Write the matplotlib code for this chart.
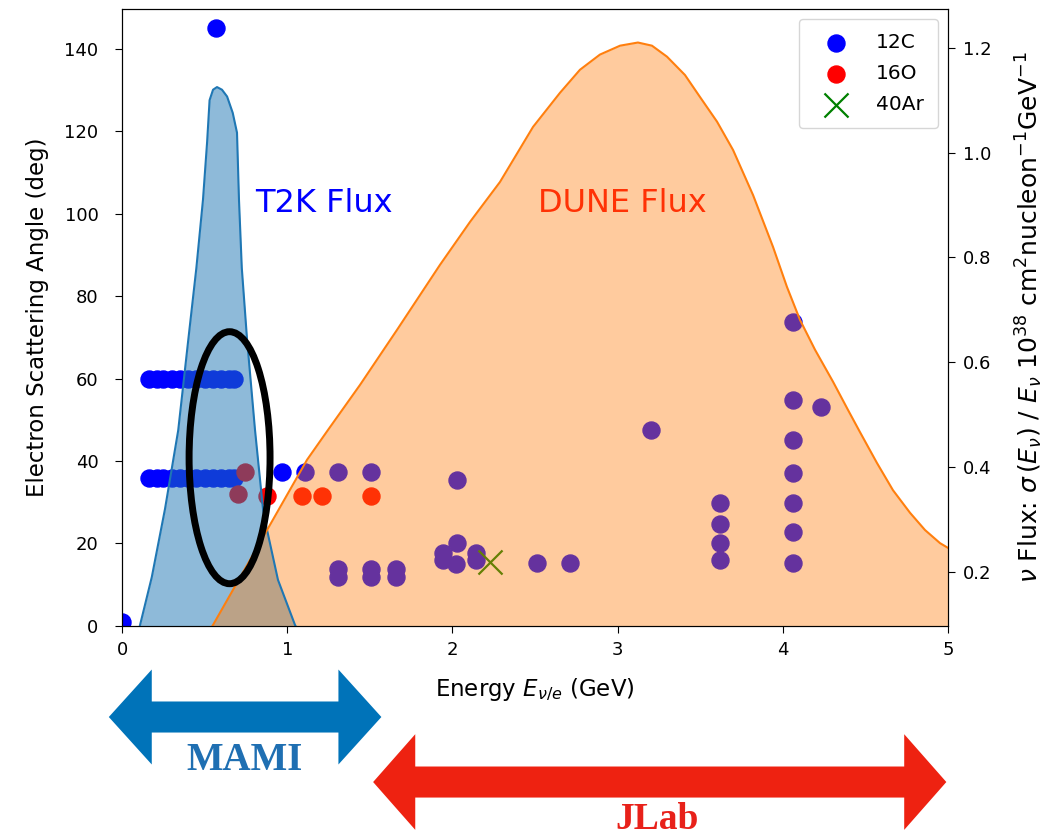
"""
plot.py
-------
Angulos de dispersion de electrones frente a energia, con los flujos
de T2K y DUNE superpuestos y los rangos de MAMI y JLab debajo.
"""

import matplotlib
matplotlib.use("Agg")
import matplotlib.pyplot as plt
from matplotlib.patches import Ellipse, Polygon
from matplotlib.transforms import blended_transform_factory

# ---------------------------------------------------------------------------
# Datos
# ---------------------------------------------------------------------------
energia_t2k = [0.0, 0.03, 0.11, 0.18, 0.26, 0.34, 0.40, 0.45, 0.49, 0.515,
               0.53, 0.551, 0.575, 0.605, 0.636, 0.67, 0.696, 0.708, 0.725,
               0.757, 0.805, 0.854, 0.878, 0.944, 1.047, 1.17, 1.5, 5.0]
flujo_t2k = [0.0, 0.0, 0.10, 0.19, 0.32, 0.47, 0.64, 0.78, 0.91, 1.02,
             1.10, 1.12, 1.125, 1.12, 1.107, 1.076, 1.038, 0.91, 0.78,
             0.643, 0.471, 0.318, 0.28, 0.185, 0.099, 0.03, 0.0, 0.0]

energia_dune = [0.0, 0.37, 0.551, 0.775, 1.120, 1.247, 1.441, 1.665, 1.925,
                2.107, 2.288, 2.488, 2.651, 2.772, 2.893, 3.015, 3.123,
                3.208, 3.299, 3.408, 3.499, 3.602, 3.699, 3.820, 3.941,
                4.025, 4.104, 4.195, 4.304, 4.395, 4.467, 4.570, 4.667,
                4.770, 4.861, 4.952, 5.0]
flujo_dune = [0.0, 0.0, 0.099, 0.223, 0.414, 0.471, 0.557, 0.662, 0.786,
              0.868, 0.944, 1.049, 1.114, 1.158, 1.187, 1.204, 1.210,
              1.204, 1.183, 1.148, 1.106, 1.059, 1.005, 0.919, 0.820,
              0.744, 0.681, 0.624, 0.563, 0.509, 0.467, 0.408, 0.356,
              0.313, 0.280, 0.255, 0.246]

fila_c12 = [0.165, 0.21, 0.25, 0.30, 0.35, 0.40, 0.45, 0.50, 0.55, 0.60,
            0.65, 0.68]
energia_c12 = (fila_c12 + fila_c12 +
               [0.0, 0.57, 0.97, 1.11, 1.31, 1.51, 2.03,
                1.31, 1.31, 1.51, 1.51, 1.66, 1.66,
                1.94, 1.94, 2.03, 2.02, 2.14, 2.14, 2.51, 2.71,
                3.20, 3.62, 3.62, 3.62, 3.62,
                4.06, 4.06, 4.06, 4.06, 4.06, 4.06, 4.06, 4.23])
angulo_c12 = ([60] * len(fila_c12) + [36] * len(fila_c12) +
              [1.0, 145, 37.3, 37.3, 37.3, 37.3, 35.3,
               13.8, 11.8, 13.8, 11.8, 13.8, 11.8,
               17.8, 15.9, 20.0, 15.1, 17.8, 15.9, 15.2, 15.2,
               47.4, 29.9, 24.8, 20.0, 15.9,
               73.6, 54.8, 45.0, 37.0, 29.9, 22.7, 15.2, 53.0])

energia_o16 = [0.70, 0.745, 0.88, 1.09, 1.21, 1.51]
angulo_o16 = [32.0, 37.3, 31.6, 31.6, 31.6, 31.6]

energia_ar40 = [2.23]
angulo_ar40 = [15.4]

# rangos de energia de los aceleradores (GeV)
rango_mami = (-0.08, 1.57)
rango_jlab = (1.52, 4.99)


def flecha_doble(fig, ax, x0, x1, y, medio_cuerpo, medio_cabeza, largo_cabeza, color):
    """Dibuja una flecha de dos puntas: x en unidades de energia, y en fraccion de figura."""
    trans = blended_transform_factory(ax.transData, fig.transFigure)
    a, b = x0 + largo_cabeza, x1 - largo_cabeza
    puntos = [(x0, y), (a, y + medio_cabeza), (a, y + medio_cuerpo),
              (b, y + medio_cuerpo), (b, y + medio_cabeza), (x1, y),
              (b, y - medio_cabeza), (b, y - medio_cuerpo),
              (a, y - medio_cuerpo), (a, y - medio_cabeza)]
    flecha = Polygon(puntos, closed=True, transform=trans, facecolor=color,
                     edgecolor="none", clip_on=False)
    fig.add_artist(flecha)


plt.rcParams["font.size"] = 13

fig = plt.figure(figsize=(10.63, 8.39), dpi=100)
ax1 = fig.add_axes([0.1148, 0.2539, 0.777, 0.7354])
ax2 = ax1.twinx()

ax1.scatter(energia_c12, angulo_c12, s=150, color="blue", label="12C")
ax1.scatter(energia_o16, angulo_o16, s=150, color="red", label="16O")
ax1.scatter(energia_ar40, angulo_ar40, s=300, marker="x", linewidths=1.6,
            color="green", label="40Ar")

ax1.text(1.22, 102.4, "T2K Flux", color="blue", fontsize=23, ha="center", va="center")
ax1.text(3.03, 102.4, "DUNE Flux", color="red", fontsize=23, ha="center", va="center")

ax1.set_xlim(0, 5)
ax1.set_ylim(0, 149.6)
ax1.set_xlabel(r"Energy $E_{\nu/e}$ (GeV)", fontsize=16.5)
ax1.set_ylabel("Electron Scattering Angle (deg)", fontsize=16.5)
ax1.xaxis.set_label_coords(0.5, -0.082)
ax1.yaxis.set_label_coords(-0.088, 0.5)
ax1.tick_params(axis="x", length=5, pad=6)
ax1.tick_params(axis="y", length=5, pad=12)

# flujos en el eje derecho, por encima de los puntos
ax2.fill_between(energia_t2k, flujo_t2k, color="C0", alpha=0.5, linewidth=0)
ax2.plot(energia_t2k, flujo_t2k, color="C0", linewidth=1.5)
ax2.fill_between(energia_dune, flujo_dune, color="C1", alpha=0.4, linewidth=0)
ax2.plot(energia_dune, flujo_dune, color="C1", linewidth=1.5)
ax2.set_ylim(0.097, 1.274)
ax2.set_ylabel(r"$\nu$ Flux: $\sigma\,(E_{\nu})$ / $E_{\nu}$ $10^{38}$ "
               r"cm$^2$nucleon$^{-1}$GeV$^{-1}$", fontsize=18)
ax2.yaxis.set_label_coords(1.08, 0.5)
ax2.tick_params(axis="y", length=5, pad=6)

h, l = ax1.get_legend_handles_labels()
ax2.legend(h, l, loc="upper right", fontsize=14.5, handlelength=2.2,
           handletextpad=0.9, borderpad=0.7, labelspacing=0.6)

# region marcada con la elipse negra
ax2.add_patch(Ellipse((0.651, 40.8), 0.49, 61.1, transform=ax1.transData,
                      fill=False, edgecolor="black", linewidth=5, zorder=10))

# ---------------------------------------------------------------------------
# Flechas de MAMI y JLab debajo del eje
# ---------------------------------------------------------------------------
flecha_doble(fig, ax1, rango_mami[0], rango_mami[1], 0.1454, 0.0185, 0.0566, 0.26, "#0073b9")
flecha_doble(fig, ax1, rango_jlab[0], rango_jlab[1], 0.0679, 0.0185, 0.057, 0.255, "#ee2211")

trans_txt = blended_transform_factory(ax1.transData, fig.transFigure)
fig.text(0.74, 0.094, "MAMI", transform=trans_txt, color="#1f6fb2", fontsize=28,
         fontweight="bold", family="Liberation Serif", ha="center", va="center")
fig.text(3.24, 0.012, "JLab", transform=trans_txt, color="#e8211a", fontsize=27,
         fontweight="bold", family="Liberation Serif", ha="center", va="baseline")

fig.savefig("out.png", dpi=100)
plt.close(fig)
